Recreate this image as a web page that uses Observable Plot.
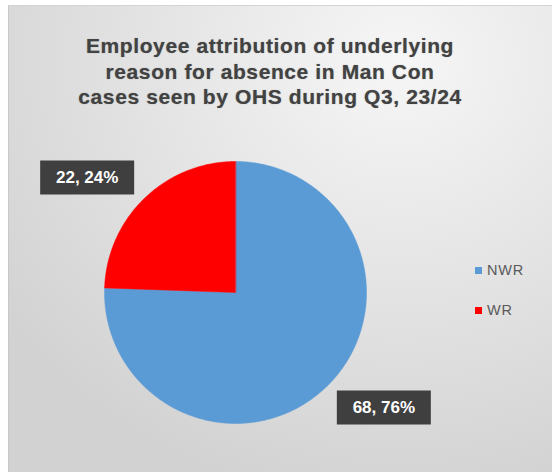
<!DOCTYPE html>
<html>
<head>
<meta charset="utf-8">
<script src="https://cdn.jsdelivr.net/npm/d3@7"></script>
<script src="https://cdn.jsdelivr.net/npm/@observablehq/plot@0.6"></script>
<style>
  html, body { margin: 0; padding: 0; background: #ffffff; }
  #card {
    position: relative; width: 552px; height: 472px; overflow: hidden;
    font-family: "Liberation Sans", Arial, sans-serif;
  }
  #panel {
    position: absolute; left: 8px; top: 5px; right: 0; bottom: 0;
    background: radial-gradient(ellipse 90% 95% at 72% 12%, #f6f6f6 0%, #e6e6e6 45%, #d2d2d2 100%);
    border-left: 1px solid #c8c8c8; border-top: 1px solid #d4d4d4;
  }
  #title {
    position: absolute; left: 0; width: 540px; top: 33px;
    text-align: center; font-weight: bold; font-size: 21px; line-height: 25.5px;
    letter-spacing: 0.6px;
    color: #424242; text-shadow: 0 0 1px rgba(60,60,60,0.5);
  }
  #chart { position: absolute; left: 0; top: 0; }
  #legend { position: absolute; left: 475px; top: 262px; font-size: 14.5px; color: #5a5a5a; letter-spacing: 0.8px; }
  #legend .item { display: flex; align-items: center; height: 16px; margin-bottom: 24px; }
  #legend .sw { width: 7px; height: 7px; margin-right: 5px; }
</style>
</head>
<body>
<div id="card">
  <div id="panel"></div>
  <div id="title">Employee attribution of underlying<br>reason for absence in Man Con<br>cases seen by OHS during Q3, 23/24</div>
  <div id="chart"></div>
  <div id="legend"></div>
</div>
<script>
// Categories, counts and colours of the two slices
const categories = ["NWR", "WR"];
const counts = [68, 22];
const percents = [76, 24];
const colors = ["#5b9bd5", "#ff0000"];

const rows = categories.map((c, i) => ({category: c, count: counts[i], pct: percents[i]}));

// Pie layout: first slice starts at 12 o'clock and runs clockwise
const arcs = d3.pie().sort(null).value(d => d.count)(rows);

// Outline of each wedge in unit-circle coordinates (y up)
const outline = [];
for (const a of arcs) {
  const cat = a.data.category;
  outline.push({category: cat, x: 0, y: 0});
  const steps = Math.max(2, Math.ceil((a.endAngle - a.startAngle) / (Math.PI / 180)));
  for (let k = 0; k <= steps; ++k) {
    const t = a.startAngle + (a.endAngle - a.startAngle) * k / steps;
    outline.push({category: cat, x: Math.sin(t), y: Math.cos(t)});
  }
}

// Data labels sit outside the pie along each wedge's mid-angle
const labels = arcs.map(a => {
  const m = (a.startAngle + a.endAngle) / 2;
  return {
    x: 1.63 * Math.sin(m),
    y: 1.22 * Math.cos(m),
    text: `${a.data.count}, ${a.data.pct}%`
  };
});

// Fixed-size rectangle behind each label
const box = {draw(context) { context.rect(-47, -17, 94, 34); }};

const plot = Plot.plot({
  width: 552,
  height: 472,
  margin: 0,
  style: {background: "transparent", overflow: "visible"},
  x: {domain: [-1, 1], range: [104, 366], axis: null},
  y: {domain: [-1, 1], range: [423, 161], axis: null},
  color: {domain: categories, range: colors},
  marks: [
    Plot.line(outline, {
      x: "x", y: "y", z: "category",
      fill: "category", stroke: "category", strokeWidth: 0.5,
      curve: "linear-closed"
    }),
    Plot.dot(labels, {
      x: "x", y: "y", symbol: box, r: 10,
      fill: "#3f3f3f", stroke: "none",
      style: {filter: "drop-shadow(2px 3px 3px rgba(0,0,0,0.45))"}
    }),
    Plot.text(labels, {
      x: "x", y: "y", text: "text",
      fill: "#ffffff", fontSize: 17, fontWeight: "bold",
      fontFamily: "Liberation Sans, Arial, sans-serif",
      style: {letterSpacing: "1px"}
    })
  ]
});
document.getElementById("chart").appendChild(plot);

// Legend entries, in the same order as the slices
const legend = d3.select("#legend");
categories.forEach((c, i) => {
  const item = legend.append("div").attr("class", "item");
  item.append("div").attr("class", "sw").style("background", colors[i]);
  item.append("span").text(c);
});
</script>
</body>
</html>
